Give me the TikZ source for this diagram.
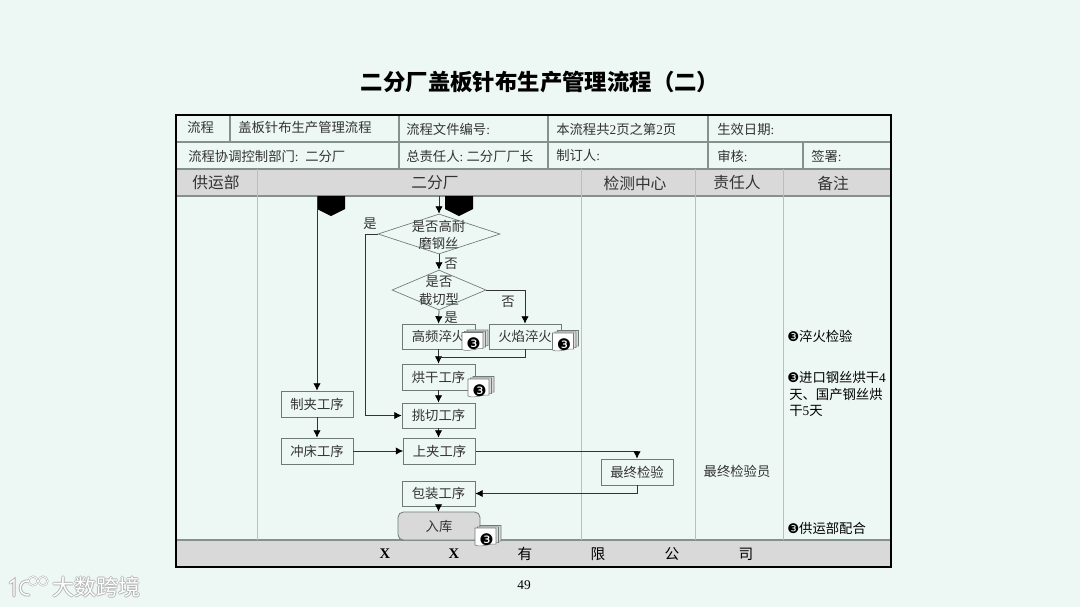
\documentclass[tikz,border=0pt]{standalone}
\usepackage{fontspec}
\usetikzlibrary{arrows.meta,shapes.geometric}
\setmainfont{Noto Sans CJK SC}
\newfontfamily\lat{Liberation Serif}
\newfontfamily\sym{DejaVu Sans}
\newcommand{\PX}{0.75pt}
\newcommand{\three}{{\sym\char"2778}}
\definecolor{bgc}{HTML}{EDF8F4}
\definecolor{ink}{HTML}{333333}
\definecolor{gridc}{HTML}{85928C}
\definecolor{lanec}{HTML}{B4C2BB}
\definecolor{headc}{HTML}{D9D9D9}
\definecolor{boxc}{HTML}{707A75}
\tikzset{
  celltext/.style={anchor=west,inner sep=0pt,text=ink,font=\fontsize{10}{12}\selectfont},
  headtext/.style={inner sep=0pt,text=ink,font=\fontsize{11.8}{14}\selectfont},
  foottext/.style={inner sep=0pt,text=black,font=\fontsize{11}{13}\selectfont},
  stepbox/.style={draw=boxc,line width=0.6pt,rectangle,inner sep=0pt,text=ink,
    minimum width=72*\PX,minimum height=26*\PX,font=\fontsize{10}{12}\selectfont},
  decision/.style={draw=boxc,line width=0.5pt,diamond,inner sep=0pt},
  flowlabel/.style={inner sep=0pt,text=ink,font=\fontsize{10}{12}\selectfont},
  flow/.style={draw=ink,line width=0.55pt,-{Latex[length=5.5pt,width=5.5pt,black]}},
  plainline/.style={draw=ink,line width=0.55pt},
  gridline/.style={draw=gridc,line width=0.8pt},
  laneline/.style={draw=lanec,line width=0.7pt},
  sheet/.style={draw=boxc,line width=0.4pt,fill=white},
  backsheet/.style={draw=boxc,line width=0.4pt,fill=headc},
  remark/.style={anchor=west,inner sep=0pt,text=black,font=\fontsize{10}{12}\selectfont},
  tab/.style={fill=black,draw=none},
}
% stack of document sheets: #1 name, #2,#3 top-left of the front sheet
\newcommand{\docstack}[3]{%
  \begin{scope}[shift={(#2,#3)}]
    \path[backsheet] (5,-2.5) -- (26,-2.5) -- (26,13) .. controls (20,12) and (12,17) .. (5,14) -- cycle;
    \path[backsheet] (2.5,-1.2) -- (23.5,-1.2) -- (23.5,14.5) .. controls (17,13.5) and (10,18) .. (2.5,15.5) -- cycle;
    \path[sheet] (0,0) -- (21,0) -- (21,16) .. controls (15,15) and (7,20) .. (0,17) -- cycle;
    \node[inner sep=0pt,text=black,font=\fontsize{12}{13}\selectfont] (#1) at (11.5,11.5) {\three};
  \end{scope}}
\begin{document}
\begin{tikzpicture}[x=0.75pt,y=-0.75pt]
\useasboundingbox[fill=bgc] (0,0) rectangle (1080,607);

\node[inner sep=0pt,text=black,font=\fontsize{16.8}{20}\selectfont\bfseries] (title) at (540,82) {二分厂盖板针布生产管理流程（二）};

% table
\fill[headc] (176,169) rectangle (891,196);
\fill[headc] (176,540) rectangle (891,567);
\draw[gridline] (176,142) -- (891,142);
\draw[gridline] (176,169) -- (891,169);
\draw[gridline] (176,196) -- (891,196);
\draw[gridline] (176,540) -- (891,540);
\draw[gridline] (230,115) -- (230,142);
\draw[gridline] (399,115) -- (399,169);
\draw[gridline] (548,115) -- (548,169);
\draw[gridline] (708,115) -- (708,169);
\draw[gridline] (803,142) -- (803,169);
\foreach \xx in {257,581,695,783} {\draw[laneline] (\xx,169) -- (\xx,540);}
\draw[black,line width=2.2pt] (176,115) rectangle (891,567);

% cells
\node[celltext] (c1) at (187,127) {流程};
\node[celltext] (c2) at (238,127) {盖板针布生产管理流程};
\node[celltext] (c3) at (406,129) {流程文件编号\lat :};
\node[celltext] (c4) at (556,129) {本流程共\lat 2\normalfont 页之第\lat 2\normalfont 页};
\node[celltext] (c5) at (717,129) {生效日期\lat :};
\node[celltext] (c6) at (188,156) {流程协调控制部门\lat :\ \ \normalfont 二分厂};
\node[celltext] (c7) at (406,156) {总责任人\lat :\ \normalfont 二分厂厂长};
\node[celltext] (c8) at (556,155) {制订人\lat :};
\node[celltext] (c9) at (717,156) {审核\lat :};
\node[celltext] (c10) at (811,156) {签署\lat :};

\node[headtext] (h1) at (216,183) {供运部};
\node[headtext] (h2) at (435,183) {二分厂};
\node[headtext] (h3) at (635,183) {检测中心};
\node[headtext] (h4) at (737,183) {责任人};
\node[headtext] (h5) at (833,183) {备注};

\node[foottext] (f1) at (385,554) {\lat\bfseries X};
\node[foottext] (f2) at (454,554) {\lat\bfseries X};
\node[foottext] (f3) at (525,554) {有};
\node[foottext] (f4) at (598,554) {限};
\node[foottext] (f5) at (672,554) {公};
\node[foottext] (f6) at (746,554) {司};

% off-page connectors
\fill[tab] (317,196) -- (345,196) -- (345,209) -- (331,216) -- (317,209) -- cycle;
\fill[tab] (445,196) -- (473,196) -- (473,209) -- (459,216) -- (445,209) -- cycle;
\coordinate (startA) at (317,196);
\coordinate (startB) at (439,196);

% shapes
\node[decision,minimum width=122*\PX,minimum height=40*\PX] (d1) at (439,234) {};
\node[decision,minimum width=94*\PX,minimum height=40*\PX] (d2) at (439,290) {};
\node[stepbox,minimum width=73*\PX,minimum height=25*\PX] (gp) at (438.5,336.5) {高频淬火};
\node[stepbox,minimum width=72*\PX,minimum height=25*\PX] (hy) at (525,336.5) {火焰淬火};
\node[stepbox,minimum width=73*\PX] (hg) at (438.5,377) {烘干工序};
\node[stepbox,minimum width=73*\PX,minimum height=25*\PX] (tq) at (438.5,415.5) {挑切工序};
\node[stepbox] (sj) at (439.5,451) {上夹工序};
\node[stepbox,minimum width=73*\PX,minimum height=25*\PX] (bz) at (438.5,493.5) {包装工序};
\node[stepbox,fill=headc,rounded corners=4pt,minimum width=82*\PX,minimum height=28*\PX] (rk) at (439,526) {入库};
\node[stepbox] (zj) at (317,404) {制夹工序};
\node[stepbox] (cc) at (317,451) {冲床工序};
\node[stepbox] (zz) at (637,472) {最终检验};

% diamond texts and branch labels
\node[flowlabel] (t1a) at (438.5,226) {是否高耐};
\node[flowlabel] (t1b) at (438.5,243) {磨钢丝};
\node[flowlabel] (t2a) at (439,282) {是否};
\node[flowlabel] (t2b) at (439,299) {截切型};
\node[flowlabel] (ly1) at (370,224) {是};
\node[flowlabel] (ln1) at (451,264) {否};
\node[flowlabel] (ln2) at (508,302) {否};
\node[flowlabel] (ly2) at (451,318) {是};

% connectors
\draw[flow] (startA) -- (zj.north);
\draw[flow] (startB) -- (d1.north);
\draw[flow] (d1.south) -- (d2.north);
\draw[flow] (d2.south) -- (gp.north);
\draw[flow] (d2.east) -| (hy.north);
\draw[flow] (gp.south) -- (hg.north);
\draw[plainline] (hy.south) |- (438.5,357);
\draw[flow] (hg.south) -- (tq.north);
\draw[flow] (tq.south) -- (tq.south |- sj.north);
\draw[flow] (d1.west) -- (365,234) |- (tq.west);
\draw[flow] (zj.south) -- (cc.north);
\draw[flow] (cc.east) -- (sj.west);
\draw[flow] (sj.east) -| (zz.north);
\draw[flow] (zz.south) |- (bz.east);
\draw[flow] (bz.south) -- (bz.south |- rk.north);

% document stacks
\docstack{s1}{462}{332.5}
\docstack{s2}{552.5}{333}
\docstack{s3}{468}{379}
\docstack{s4}{475}{528}

% right-hand columns
\node[headtext,font=\fontsize{10}{12}\selectfont] (resp) at (737,471) {最终检验员};
\node[remark] (r1) at (787,336) {\three 淬火检验};
\node[remark] (r2) at (787,377) {\three 进口钢丝烘干\lat 4};
\node[remark] (r3) at (789,394) {天、国产钢丝烘};
\node[remark] (r4) at (789,411) {干\lat 5\normalfont 天};
\node[remark] (r5) at (787,528) {\three 供运部配合};

\node[inner sep=0pt,text=black,font=\lat\fontsize{10}{12}\selectfont] (page) at (524,585) {49};

% watermark
\foreach \dx/\dy [count=\i] in {-1/0,1/0,0/-1,0/1}
  {\node[inner sep=0pt,text=black!35,opacity=0.7,font=\fontsize{16.5}{20}\selectfont] (wm\i) at (96,587) [xshift=\dx*0.75pt,yshift=\dy*0.75pt] {大数跨境};}
\node[inner sep=0pt,text=white,font=\fontsize{16.5}{20}\selectfont] (wm) at (96,587) {大数跨境};
\foreach \col/\wid in {black!30/2.4pt,white/1.1pt}{
  \draw[\col,line width=\wid,line cap=round] (10,583) -- (14,580) -- (14,596);
  \draw[\col,line width=\wid,line cap=round] (28,581) .. controls (18,580) and (17,596) .. (29,595);
  \draw[\col,line width=\wid*0.6] (33,581) circle (4.5);
  \draw[\col,line width=\wid*0.6] (43,581) circle (4.5);
}
\end{tikzpicture}
\end{document}
